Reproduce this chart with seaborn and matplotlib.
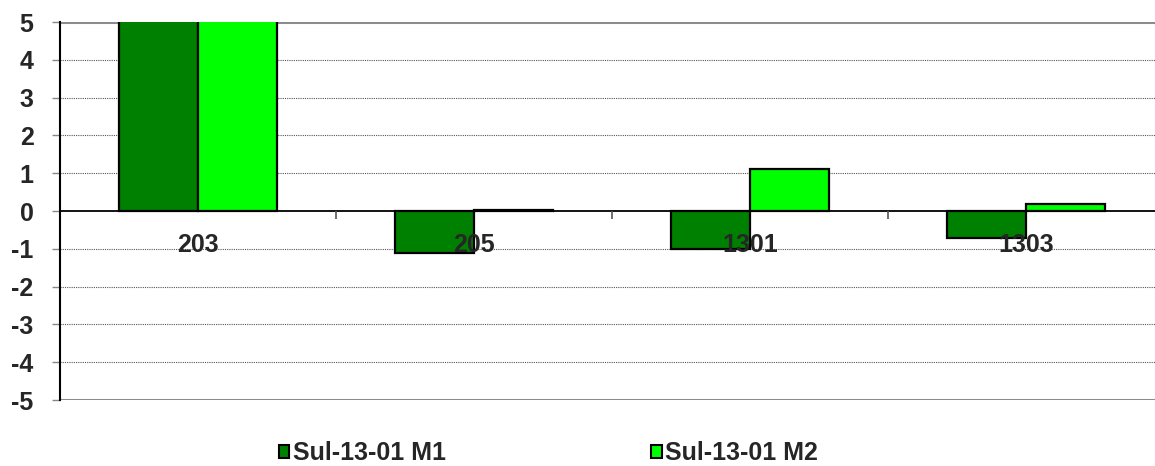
import matplotlib
matplotlib.use("Agg")
import matplotlib.pyplot as plt
import seaborn as sns
import pandas as pd
from matplotlib.patches import Patch
from matplotlib.ticker import FixedLocator

categories = ["203", "205", "1301", "1303"]
series_names = ["Sul-13-01 M1", "Sul-13-01 M2"]
m1_values = [6.0, -1.12, -1.0, -0.71]
m2_values = [6.0, 0.03, 1.1, 0.19]
colors = ["#008000", "#00FF00"]

df = pd.DataFrame({
    "cat": categories * 2,
    "series": [series_names[0]] * 4 + [series_names[1]] * 4,
    "value": m1_values + m2_values,
})

sns.set_style("white")
plt.rcParams["font.family"] = ["Liberation Sans", "DejaVu Sans"]
plt.rcParams["font.weight"] = "bold"

fig = plt.figure(figsize=(11.55, 4.66), dpi=100)
ax = fig.add_axes([60 / 1155, 66 / 466, 1104 / 1155, 378 / 466])

sns.barplot(data=df, x="cat", y="value", hue="series", order=categories,
            hue_order=series_names, palette=colors, width=0.573,
            edgecolor="black", linewidth=1.6, saturation=1, ax=ax,
            legend=False, zorder=2)

ax.set_ylim(-5, 5)
ax.set_xlim(-0.5, 3.5)
ax.set_yticks(range(-5, 6))
ax.set_yticklabels([str(v) for v in range(-5, 6)], fontsize=18, fontweight="bold")
for y in range(-4, 5):
    if y != 0:
        ax.axhline(y, color="#555555", linestyle=(0, (1, 1)), linewidth=0.8, zorder=1)
ax.axhline(5, color="#8c8c8c", linewidth=2.2, zorder=1)
ax.axhline(-5, color="#8c8c8c", linewidth=2.2, zorder=1)

for s in ["top", "right"]:
    ax.spines[s].set_visible(False)
ax.spines["left"].set_color("black")
ax.spines["left"].set_linewidth(1.5)
ax.spines["bottom"].set_position(("data", 0))
ax.spines["bottom"].set_color("black")
ax.spines["bottom"].set_linewidth(1.3)
ax.spines["bottom"].set_zorder(3)

ax.tick_params(axis="y", which="major", left=True, length=6, width=1, color="#888888", pad=13)
ax.tick_params(axis="x", which="major", length=0, pad=16, labelsize=18)
ax.xaxis.set_minor_locator(FixedLocator([0.5, 1.5, 2.5]))
ax.tick_params(axis="x", which="minor", bottom=True, length=6, width=1.2, color="#555555")
for lbl in ax.get_xticklabels():
    lbl.set_fontweight("bold")
ax.xaxis.set_zorder(4)
ax.set_xlabel("")
ax.set_ylabel("")

handles = [Patch(facecolor=c, edgecolor="black", linewidth=1.5) for c in colors]
fig.legend(handles, series_names, loc="center", bbox_to_anchor=(0.475, 0.028),
           ncol=2, frameon=False, prop={"weight": "bold", "size": 18},
           handlelength=0.42, handleheight=0.42, handletextpad=0.15, columnspacing=8.2)

fig.savefig("out.png", dpi=100)
